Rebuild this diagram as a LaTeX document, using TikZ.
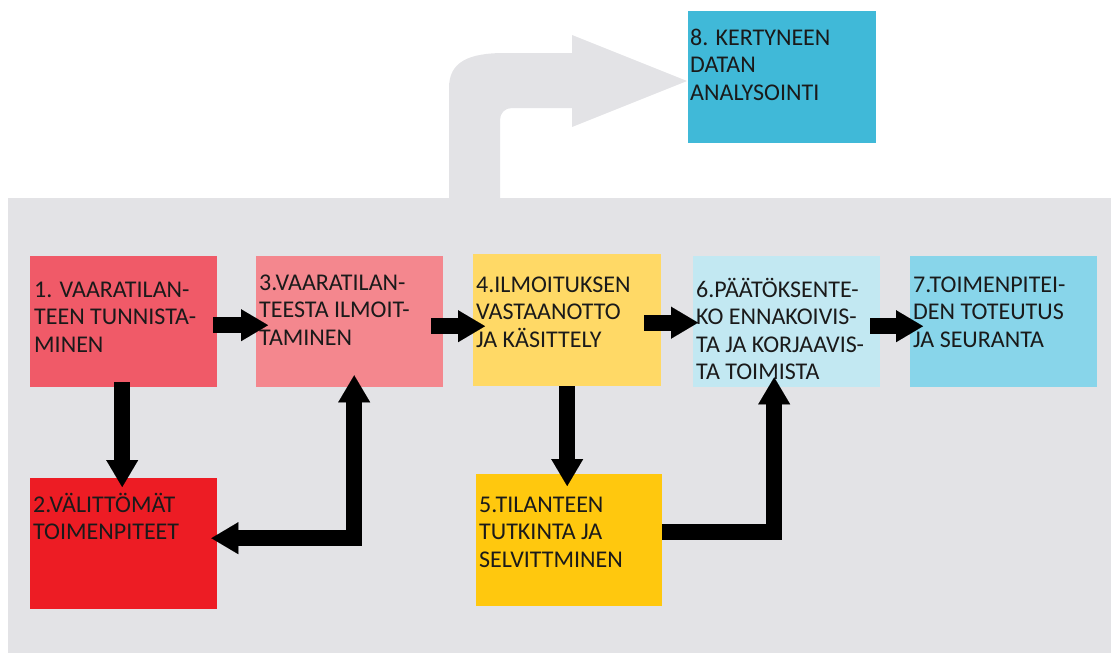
\documentclass[tikz,border=0pt]{standalone}
\usepackage{fontspec}
\setmainfont{Carlito}
\usetikzlibrary{arrows.meta}
\definecolor{bgray}{HTML}{E3E3E6}
\definecolor{cA}{HTML}{F05A68}
\definecolor{cB}{HTML}{ED1C24}
\definecolor{cC}{HTML}{F4878E}
\definecolor{cD}{HTML}{FFD966}
\definecolor{cE}{HTML}{FFC80E}
\definecolor{cF}{HTML}{C2E8F2}
\definecolor{cG}{HTML}{88D5EA}
\definecolor{cH}{HTML}{40B9D8}
\definecolor{txt}{HTML}{1A1A1A}
\begin{document}
\begin{tikzpicture}[x=1pt,y=-1pt,
  box/.style={draw=none, inner sep=0pt, anchor=north west},
  lbl/.style={anchor=north west, inner sep=0pt, align=left, font=\fontsize{24}{27.5}\selectfont, text=txt},
  blk/.style={line width=16pt, line join=miter, draw=black, -{Triangle[width=32pt,length=27pt,line width=0.01pt]}},
  blktwo/.style={line width=16pt, line join=miter, draw=black, {Triangle[width=32pt,length=27pt,line width=0.01pt]}-{Triangle[width=32pt,length=27pt,line width=0.01pt]}}]
\useasboundingbox (0,0) rectangle (1111,653);
\fill[bgray] (8,198) rectangle (1111,653);
\fill[bgray] (449,198) -- (449,88) .. controls (449,62) and (468,53) .. (505,53) -- (572,53) -- (572,35) -- (687,81) -- (572,127) -- (572,108) -- (512,108) .. controls (505,108) and (500,113) .. (500,120) -- (500,198) -- cycle;

\node[box, fill=cA, minimum width=187pt, minimum height=131pt] (b1) at (30,256) {};
\node[box, fill=cC, minimum width=187pt, minimum height=131pt] (b3) at (256,256) {};
\node[box, fill=cD, minimum width=188pt, minimum height=132pt] (b4) at (473,254) {};
\node[box, fill=cF, minimum width=187pt, minimum height=131pt] (b6) at (693,256) {};
\node[box, fill=cG, minimum width=187pt, minimum height=131pt] (b7) at (910,256) {};
\node[box, fill=cB, minimum width=187pt, minimum height=131pt] (b2) at (30,478) {};
\node[box, fill=cE, minimum width=186pt, minimum height=132pt] (b5) at (476,474) {};
\node[box, fill=cH, minimum width=188pt, minimum height=132pt] (b8) at (688,11) {};

\node[lbl] (t1) at (34,275) {\rule{0pt}{22pt}1. VAARATILAN-\\TEEN TUNNISTA-\\MINEN};
\node[lbl] (t3) at (259,268) {\rule{0pt}{22pt}3.VAARATILAN-\\TEESTA ILMOIT-\\TAMINEN};
\node[lbl] (t4) at (476,270) {\rule{0pt}{22pt}4.ILMOITUKSEN\\VASTAANOTTO\\JA KÄSITTELY};
\node[lbl] (t6) at (696,275) {\rule{0pt}{22pt}6.PÄÄTÖKSENTE-\\KO ENNAKOIVIS-\\TA JA KORJAAVIS-\\TA TOIMISTA};
\node[lbl] (t7) at (913,270) {\rule{0pt}{22pt}7.TOIMENPITEI-\\DEN TOTEUTUS\\JA SEURANTA};
\node[lbl] (t8) at (690,23) {\rule{0pt}{22pt}8. KERTYNEEN\\DATAN\\ANALYSOINTI};
\node[lbl] (t2) at (33,490) {\rule{0pt}{22pt}2.VÄLITTÖMÄT\\TOIMENPITEET};
\node[lbl] (t5) at (479,490) {\rule{0pt}{22pt}5.TILANTEEN\\TUTKINTA JA\\SELVITTMINEN};

\draw[blk] ([xshift=-4pt,yshift=-3.5pt]b1.east) -- ([xshift=12pt,yshift=-3.5pt]b3.west);
\draw[blk] ([xshift=-12pt,yshift=-4.5pt]b3.east) -- ([xshift=12pt,yshift=-6pt]b4.west);
\draw[blk] ([xshift=-17pt,yshift=-2.5pt]b4.east) -- ([xshift=5pt,yshift=-1pt]b6.west);
\draw[blk] ([xshift=-10pt,yshift=-4.5pt]b6.east) -- ([xshift=13pt,yshift=-4.5pt]b7.west);
\draw[blk] ([xshift=-1.5pt,yshift=5pt]b1.south) -- ([xshift=-1.5pt,yshift=-9pt]b2.north);
\draw[blk] (b4.south) -- ([xshift=-2pt,yshift=-12pt]b5.north);
\draw[blk] ([yshift=8pt]b5.east) -| ([xshift=-12.5pt,yshift=10pt]b6.south);
\draw[blktwo] ([xshift=-6pt,yshift=5.5pt]b2.east) -| ([xshift=4.5pt,yshift=12pt]b3.south);
\end{tikzpicture}
\end{document}
